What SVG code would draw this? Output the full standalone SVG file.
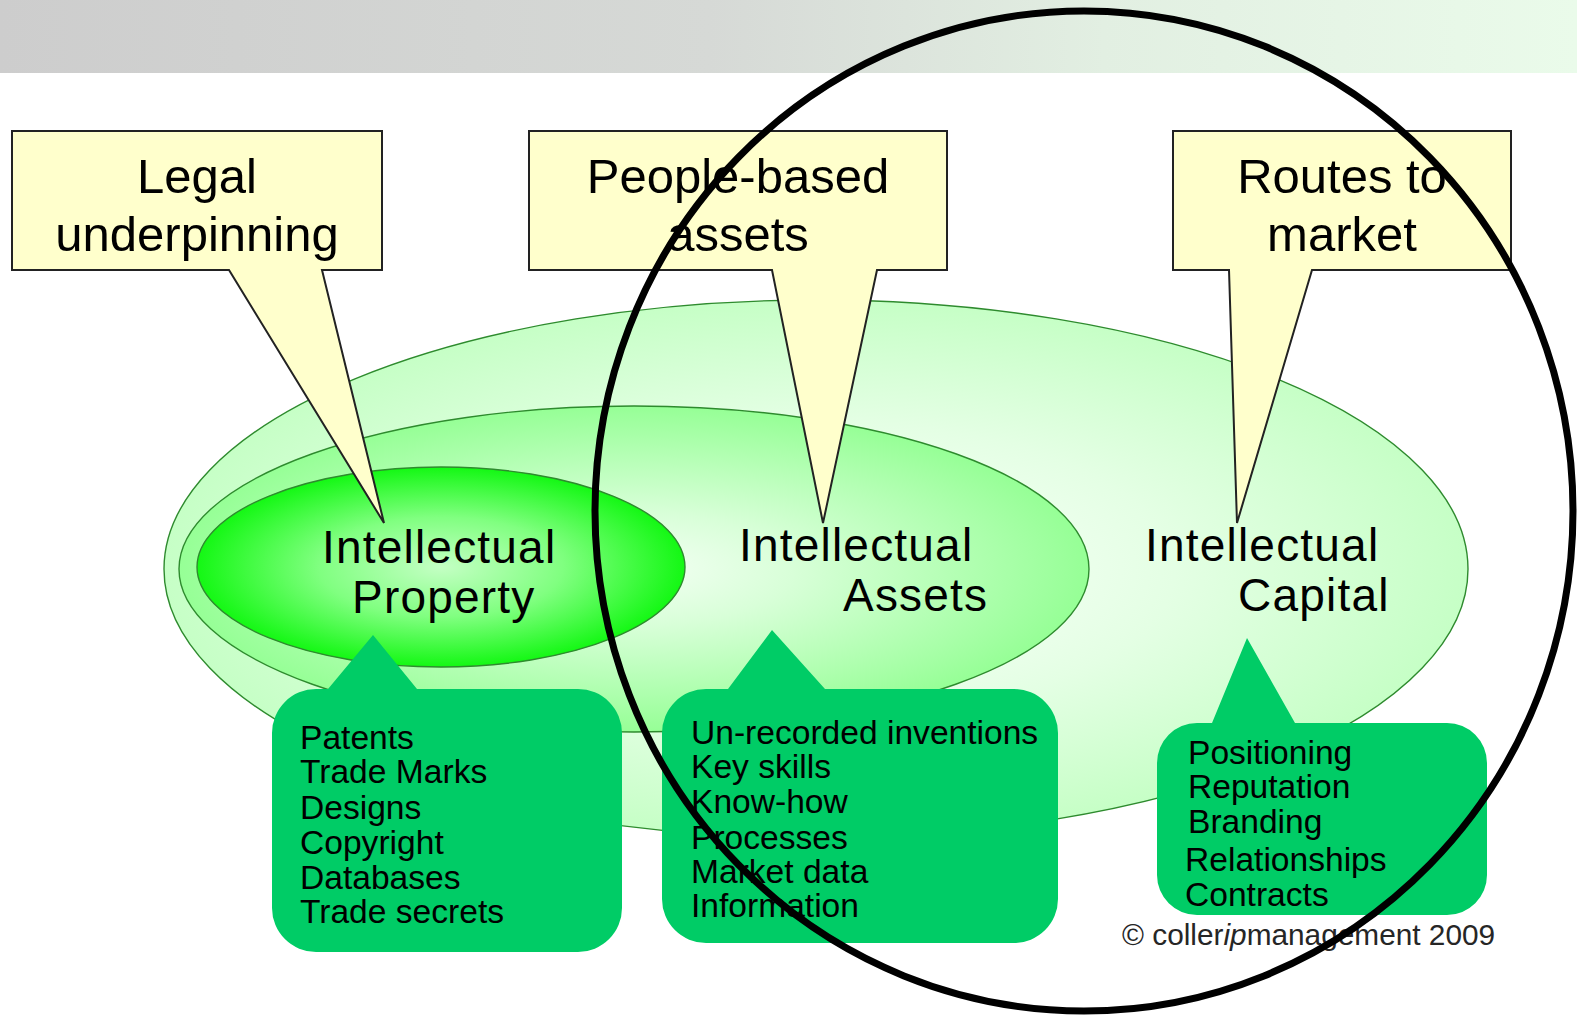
<svg xmlns="http://www.w3.org/2000/svg" width="1577" height="1020" viewBox="0 0 1577 1020">
  <defs>
    <linearGradient id="bar" x1="0" y1="0" x2="1" y2="0">
      <stop offset="0" stop-color="#cdcdcd"/>
      <stop offset="0.45" stop-color="#d6d9d6"/>
      <stop offset="0.7" stop-color="#e2efe2"/>
      <stop offset="1" stop-color="#eafbea"/>
    </linearGradient>
    <radialGradient id="gIC" cx="0.5" cy="0.5" r="0.5">
      <stop offset="0" stop-color="#ffffff"/>
      <stop offset="0.55" stop-color="#e4ffe4"/>
      <stop offset="1" stop-color="#c6ffc6"/>
    </radialGradient>
    <radialGradient id="gIA" cx="0.5" cy="0.5" r="0.5">
      <stop offset="0" stop-color="#f4fff4"/>
      <stop offset="0.35" stop-color="#d8ffd8"/>
      <stop offset="1" stop-color="#96ff96"/>
    </radialGradient>
    <radialGradient id="gIP" cx="0.5" cy="0.5" r="0.5">
      <stop offset="0" stop-color="#c4ffc4"/>
      <stop offset="0.5" stop-color="#80ff80"/>
      <stop offset="1" stop-color="#14f814"/>
    </radialGradient>
    <style>
      .oval { stroke: #2e8b2e; stroke-width: 1.4; }
      .callout { fill: #ffffcc; stroke: #222; stroke-width: 2; stroke-linejoin: miter; }
      .ctext { font-family: "Liberation Sans", Arial, sans-serif; font-size: 49px; fill: #000; text-anchor: middle; }
      .otext { font-family: "Liberation Sans", Arial, sans-serif; font-size: 46px; letter-spacing: 1.2px; fill: #000; }
      .bubble { fill: #00cc66; }
      .ltext { font-family: "Liberation Sans", Arial, sans-serif; font-size: 33.6px; fill: #000; }
      .copy { font-family: "Liberation Sans", Arial, sans-serif; font-size: 29.8px; fill: #262626; }
      .ring { fill: none; stroke: #000; stroke-width: 7; }
    </style>
  </defs>

  <!-- title band -->
  <rect x="0" y="0" width="1577" height="73" fill="url(#bar)"/>

  <!-- nested ovals -->
  <g id="intellectual-capital">
    <ellipse class="oval" cx="816" cy="569" rx="652" ry="269" fill="url(#gIC)"/>
  </g>
  <g id="intellectual-assets">
    <ellipse class="oval" cx="634" cy="569" rx="455" ry="163" fill="url(#gIA)"/>
  </g>
  <g id="intellectual-property">
    <ellipse class="oval" cx="441" cy="567" rx="244" ry="100" fill="url(#gIP)"/>
  </g>

  <!-- yellow callouts with pointers -->
  <g id="connectors">
    <g id="legal-underpinning">
      <path class="callout" d="M12,131 H382 V270 H322 L384,523 L229,270 H12 Z"/>
      <text class="ctext" x="197" y="193">Legal</text>
      <text class="ctext" x="197" y="251">underpinning</text>
    </g>
    <g id="people-based-assets">
      <path class="callout" d="M529,131 H947 V270 H877 L823,523 L772,270 H529 Z"/>
      <text class="ctext" x="738" y="193">People-based</text>
      <text class="ctext" x="738" y="251">assets</text>
    </g>
    <g id="routes-to-market">
      <path class="callout" d="M1173,131 H1511 V270 H1312 L1237,523 L1229,270 H1173 Z"/>
      <text class="ctext" x="1342" y="193">Routes to</text>
      <text class="ctext" x="1342" y="251">market</text>
    </g>
  </g>

  <!-- oval labels -->
  <g id="labels">
    <text class="otext" x="322" y="563">Intellectual</text>
    <text class="otext" x="352" y="613">Property</text>
    <text class="otext" x="739" y="561">Intellectual</text>
    <text class="otext" x="843" y="611">Assets</text>
    <text class="otext" x="1145" y="561">Intellectual</text>
    <text class="otext" x="1238" y="611">Capital</text>
  </g>

  <!-- green lists -->
  <g id="list-ip">
    <path class="bubble" d="M316,689 H328 L373,635 L417,689 H578 A44,44 0 0 1 622,733 V908 A44,44 0 0 1 578,952 H316 A44,44 0 0 1 272,908 V733 A44,44 0 0 1 316,689 Z"/>
    <text class="ltext" x="300" y="749">Patents</text>
    <text class="ltext" x="300" y="783">Trade Marks</text>
    <text class="ltext" x="300" y="819">Designs</text>
    <text class="ltext" x="300" y="854">Copyright</text>
    <text class="ltext" x="300" y="889">Databases</text>
    <text class="ltext" x="300" y="923">Trade secrets</text>
  </g>
  <g id="list-ia">
    <path class="bubble" d="M706,689 H728 L772,630 L825,689 H1014 A44,44 0 0 1 1058,733 V899 A44,44 0 0 1 1014,943 H706 A44,44 0 0 1 662,899 V733 A44,44 0 0 1 706,689 Z"/>
    <text class="ltext" x="691" y="744">Un-recorded inventions</text>
    <text class="ltext" x="691" y="778">Key skills</text>
    <text class="ltext" x="691" y="813">Know-how</text>
    <text class="ltext" x="691" y="849">Processes</text>
    <text class="ltext" x="691" y="883">Market data</text>
    <text class="ltext" x="691" y="917">Information</text>
  </g>
  <g id="list-ic">
    <path class="bubble" d="M1197,723 H1212 L1247,638 L1295,723 H1447 A40,40 0 0 1 1487,763 V875 A40,40 0 0 1 1447,915 H1197 A40,40 0 0 1 1157,875 V763 A40,40 0 0 1 1197,723 Z"/>
    <text class="ltext" x="1188" y="764">Positioning</text>
    <text class="ltext" x="1188" y="798">Reputation</text>
    <text class="ltext" x="1188" y="833">Branding</text>
    <text class="ltext" x="1185" y="871">Relationships</text>
    <text class="ltext" x="1185" y="906">Contracts</text>
  </g>

  <text class="copy" x="1122" y="945">© coller<tspan font-style="italic">ip</tspan>management 2009</text>

  <!-- emphasis ring -->
  <g id="highlight">
    <ellipse class="ring" cx="1084" cy="511" rx="489" ry="500"/>
  </g>
</svg>
